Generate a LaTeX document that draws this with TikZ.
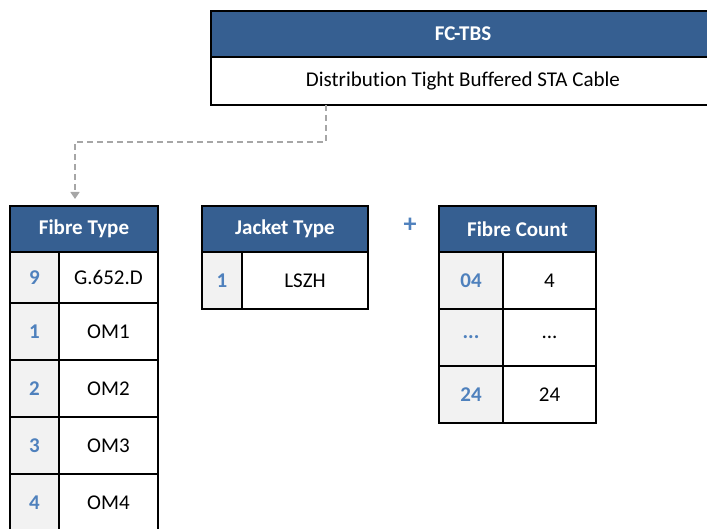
\documentclass[tikz,border=0pt]{standalone}
\usepackage{fontspec}
\setmainfont{Carlito}[Ligatures={NoCommon,NoContextual}]
\usepackage{xcolor}
\usepackage{tikz}
\usetikzlibrary{arrows.meta,positioning}

\definecolor{headblue}{RGB}{54,95,145}
\definecolor{codeblue}{RGB}{79,129,189}
\definecolor{codegray}{RGB}{242,242,242}
\definecolor{linkgray}{RGB}{166,166,166}

\begin{document}
\begin{tikzpicture}[x=1pt, y=1pt, node distance=0pt, every node/.style={font=\fontsize{21}{24}\selectfont}]

    % Styles for the ordering table
    \tikzset{
        headcell/.style={draw=black, fill=headblue, text=white, line width=1.6pt, inner sep=0pt, outer sep=0pt, minimum height=46pt, font=\fontsize{21}{24}\selectfont\bfseries},
        codecell/.style={draw=black, fill=codegray, text=codeblue, line width=1.6pt, inner sep=0pt, outer sep=0pt, minimum height=57pt, font=\fontsize{21}{24}\selectfont\bfseries},
        valcell/.style={draw=black, fill=white, line width=1.6pt, inner sep=0pt, outer sep=0pt, minimum height=57pt},
        link/.style={-{Triangle[length=7pt, width=9pt]}, linkgray, line width=1.6pt, dash pattern=on 6pt off 4pt}
    }

    \useasboundingbox (0,0) rectangle (707,-529);
    \clip (0,0) rectangle (707,-529);

    % Product code and description
    \node[headcell, minimum width=504pt, anchor=north west] (cable) at (211,-11) {FC-TBS};
    \node[valcell, minimum width=504pt, minimum height=48pt, below=of cable] (cabledesc) {Distribution Tight Buffered STA Cable};

    % Fibre type table
    \node[headcell, minimum width=148pt, anchor=north west] (fibtype) at (10,-206) {Fibre Type};
    \node[codecell, minimum width=49pt, minimum height=51pt, below right=of fibtype.south west] (ft9) {9};
    \node[valcell, minimum width=99pt, minimum height=51pt, right=of ft9] (ft9v) {G.652.D};
    \node[codecell, minimum width=49pt, below=of ft9] (ft1) {1};
    \node[valcell, minimum width=99pt, right=of ft1] (ft1v) {OM1};
    \node[codecell, minimum width=49pt, below=of ft1] (ft2) {2};
    \node[valcell, minimum width=99pt, right=of ft2] (ft2v) {OM2};
    \node[codecell, minimum width=49pt, below=of ft2] (ft3) {3};
    \node[valcell, minimum width=99pt, right=of ft3] (ft3v) {OM3};
    \node[codecell, minimum width=49pt, below=of ft3] (ft4) {4};
    \node[valcell, minimum width=99pt, right=of ft4] (ft4v) {OM4};

    % Jacket type table
    \node[headcell, minimum width=166pt, anchor=north west] (jacket) at (202,-206) {Jacket Type};
    \node[codecell, minimum width=40pt, below right=of jacket.south west] (jk1) {1};
    \node[valcell, minimum width=126pt, right=of jk1] (jk1v) {LSZH};

    \node[text=codeblue, font=\fontsize{26}{28}\selectfont\bfseries] (plus) at (410,-225) {+};

    % Fibre count table
    \node[headcell, minimum width=157pt, anchor=north west] (count) at (439,-206) {Fibre Count};
    \node[codecell, minimum width=64pt, below right=of count.south west] (fc04) {04};
    \node[valcell, minimum width=93pt, right=of fc04] (fc04v) {4};
    \node[codecell, minimum width=64pt, below=of fc04] (fcdots) {...};
    \node[valcell, minimum width=93pt, right=of fcdots] (fcdotsv) {...};
    \node[codecell, minimum width=64pt, below=of fcdots] (fc24) {24};
    \node[valcell, minimum width=93pt, right=of fc24] (fc24v) {24};

    % Dashed connector from the code to the first field
    \draw[link] ([xshift=-137pt]cabledesc.south) -- ++(0,-37) -| ([xshift=-9pt,yshift=7pt]fibtype.north);

\end{tikzpicture}
\end{document}
